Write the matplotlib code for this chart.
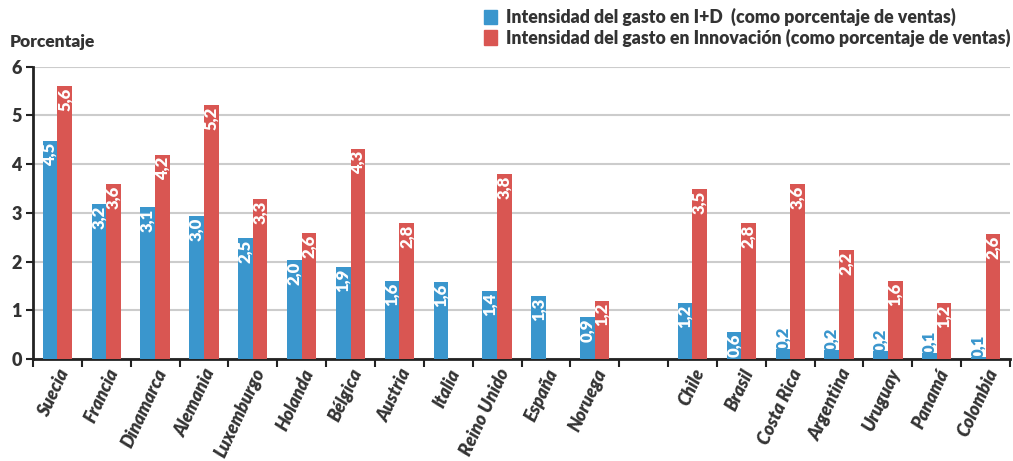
import numpy as np
import matplotlib
matplotlib.use("Agg")
import matplotlib.pyplot as plt
from matplotlib.patches import Patch

plt.rcParams['font.family'] = ['Lato', 'DejaVu Sans']

paises = ['Suecia', 'Francia', 'Dinamarca', 'Alemania', 'Luxemburgo', 'Holanda',
          'Bélgica', 'Austria', 'Italia', 'Reino Unido', 'España', 'Noruega',
          '', 'Chile', 'Brasil', 'Costa Rica', 'Argentina', 'Uruguay', 'Panamá', 'Colombia']

# I+D intensity (blue); None = no bar
id_vals = [4.48, 3.18, 3.12, 2.94, 2.49, 2.04, 1.89, 1.61, 1.59, 1.40, 1.30, 0.87,
           None, 1.15, 0.56, 0.21, 0.19, 0.17, 0.13, 0.05]
id_labels = ['4,5', '3,2', '3,1', '3,0', '2,5', '2,0', '1,9', '1,6', '1,6', '1,4', '1,3', '0,9',
             '', '1,2', '0,6', '0,2', '0,2', '0,2', '0,1', '0,1']

# Innovation intensity (red)
inn_vals = [5.60, 3.60, 4.19, 5.21, 3.29, 2.59, 4.31, 2.79, None, 3.80, None, 1.20,
            None, 3.49, 2.79, 3.60, 2.24, 1.61, 1.15, 2.57]
inn_labels = ['5,6', '3,6', '4,2', '5,2', '3,3', '2,6', '4,3', '2,8', '', '3,8', '', '1,2',
              '', '3,5', '2,8', '3,6', '2,2', '1,6', '1,2', '2,6']

blue = '#3A96CD'
red = '#D95652'
dark = '#333333'
W = 'heavy'

fig = plt.figure(figsize=(10.13, 4.61), dpi=100)
ax = fig.add_axes([33/1013, 1 - 359/461, (1010-33)/1013, (359-66.7)/461])

x = np.arange(len(paises))
w = 0.3

for i in x:
    v = id_vals[i]
    if v is not None:
        ax.bar(i - w/2, v, w, color=blue, zorder=3)
        if v < 0.3:
            ax.text(i - w/2, v - 0.02, id_labels[i], rotation=90, ha='center', va='bottom',
                    color=blue, fontsize=12, fontweight=W, zorder=4)
        else:
            ax.text(i - w/2, v - 0.04, id_labels[i], rotation=90, ha='center', va='top',
                    color='white', fontsize=12, fontweight=W, zorder=4)
    v = inn_vals[i]
    if v is not None:
        ax.bar(i + w/2, v, w, color=red, zorder=3)
        ax.text(i + w/2, v - 0.04, inn_labels[i], rotation=90, ha='center', va='top',
                color='white', fontsize=12, fontweight=W, zorder=4)

ax.set_xlim(-0.5, len(paises) - 0.5)
ax.set_ylim(0, 6)
ax.set_yticks(range(0, 7))
ax.yaxis.grid(True, color='#cccccc', linewidth=1.5, zorder=0)
ax.set_axisbelow(True)

ax.set_xticks(np.arange(-0.5, len(paises), 1.0))
ax.set_xticklabels([])
ax.tick_params(axis='x', length=6, width=1.5, color='#222222')
ax.tick_params(axis='y', length=5, width=1.5, color='#222222', labelsize=13,
               labelcolor=dark, pad=3)
for lab in ax.get_yticklabels():
    lab.set_fontweight(W)

for i, name in enumerate(paises):
    if name:
        ax.text(i + 0.15, -0.22, name, rotation=65, rotation_mode='anchor',
                ha='right', va='center', fontsize=13, fontweight=W,
                style='italic', color=dark, transform=ax.transData)

for s in ['top', 'right']:
    ax.spines[s].set_visible(False)
for s in ['left', 'bottom']:
    ax.spines[s].set_linewidth(2)
    ax.spines[s].set_color('#222222')

fig.text(10/1013, 1 - 42/461, 'Porcentaje', fontsize=12.5, fontweight=W,
         color=dark, va='center', ha='left')

handles = [Patch(color=blue), Patch(color=red)]
fig.legend(handles,
           ['Intensidad del gasto en I+D  (como porcentaje de ventas)',
            'Intensidad del gasto en Innovación (como porcentaje de ventas)'],
           loc='upper left', bbox_to_anchor=(484/1013, 1 - 8/461), frameon=False,
           handlelength=0.75, handleheight=0.9, handletextpad=0.5, labelspacing=0.15,
           borderaxespad=0, borderpad=0, prop={'weight': W, 'size': 12.7},
           labelcolor=dark)

fig.savefig('out.png', dpi=100)
